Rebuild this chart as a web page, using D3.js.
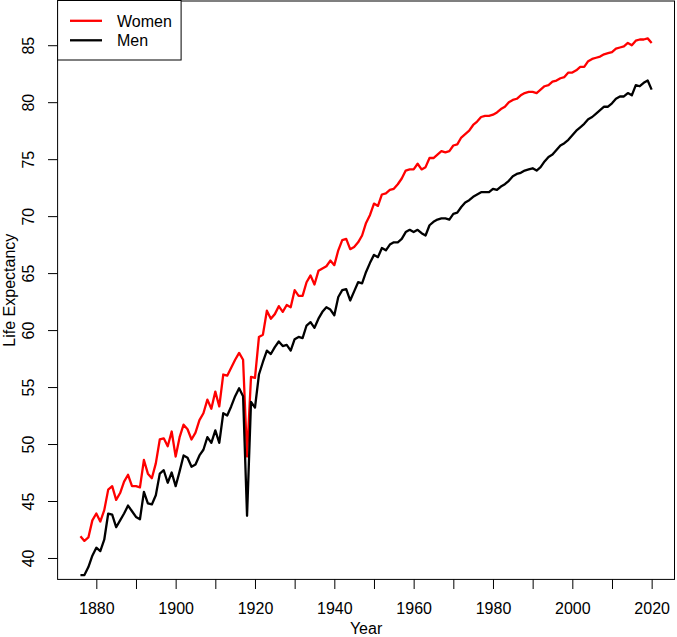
<!DOCTYPE html>
<html>
<head>
<meta charset="utf-8">
<script src="https://cdn.jsdelivr.net/npm/d3@7"></script>
<style>
  html, body { margin: 0; padding: 0; background: #fff; }
  svg { display: block; }
  text { font-family: "Liberation Sans", Arial, Helvetica, sans-serif; }
</style>
</head>
<body>
<script>
// ---- data (Switzerland-like life expectancy) ----
const years = d3.range(1876, 2021);
const women = [
  41.9, 41.5, 41.8, 43.3, 43.9, 43.2, 44.2, 46.0, 46.3, 45.1,
  45.7, 46.7, 47.3, 46.3, 46.3, 46.2, 48.6, 47.4, 47.0, 48.3,
  50.4, 50.5, 49.8, 51.1, 48.9, 50.6, 51.7, 51.3, 50.4, 51.0,
  52.1, 52.7, 53.9, 53.1, 54.6, 53.3, 56.1, 56.0, 56.7, 57.4,
  58.0, 57.4, 48.9, 55.9, 55.8, 59.4, 59.6, 61.7, 61.0, 61.4,
  62.1, 61.6, 62.2, 62.0, 63.5, 63.0, 63.0, 64.2, 64.8, 64.0,
  65.2, 65.4, 65.6, 66.1, 65.7, 67.0, 67.9, 68.0, 67.1, 67.3,
  67.7, 68.3, 69.4, 70.1, 71.1, 70.9, 71.9, 72.0, 72.3, 72.4,
  72.8, 73.3, 74.0, 74.1, 74.1, 74.6, 74.1, 74.3, 75.1, 75.1,
  75.4, 75.7, 75.6, 75.7, 76.2, 76.3, 76.9, 77.2, 77.5, 78.0,
  78.3, 78.7, 78.8, 78.8, 78.9, 79.1, 79.4, 79.6, 80.0, 80.2,
  80.3, 80.6, 80.8, 80.9, 80.9, 80.8, 81.1, 81.4, 81.5, 81.8,
  81.9, 82.1, 82.2, 82.6, 82.6, 82.8, 83.1, 83.1, 83.6, 83.8,
  83.9, 84.0, 84.2, 84.3, 84.4, 84.7, 84.8, 84.9, 85.2, 85.0,
  85.4, 85.5, 85.5, 85.6, 85.2
];
const men = [
  38.5, 38.5, 39.2, 40.2, 40.9, 40.6, 41.6, 43.9, 43.8, 42.7,
  43.3, 43.9, 44.6, 44.1, 43.6, 43.4, 45.8, 44.8, 44.7, 45.5,
  47.4, 47.7, 46.6, 47.5, 46.3, 47.6, 49.0, 48.8, 48.0, 48.2,
  49.0, 49.5, 50.6, 50.1, 51.2, 50.1, 52.7, 52.5, 53.3, 54.2,
  54.9, 54.2, 43.7, 53.7, 53.2, 56.1, 57.2, 58.2, 57.9, 58.5,
  59.0, 58.6, 58.7, 58.2, 59.2, 59.4, 59.3, 60.4, 60.7, 60.2,
  61.0, 61.6, 62.0, 61.8, 61.3, 62.9, 63.5, 63.6, 62.6, 63.4,
  64.2, 64.1, 65.1, 65.9, 66.6, 66.4, 67.2, 67.0, 67.5, 67.7,
  67.7, 68.0, 68.6, 68.8, 68.6, 68.8, 68.5, 68.3, 69.2, 69.5,
  69.7, 69.8, 69.8, 69.7, 70.2, 70.3, 70.8, 71.2, 71.4, 71.7,
  71.9, 72.1, 72.1, 72.1, 72.4, 72.3, 72.6, 72.8, 73.1, 73.5,
  73.7, 73.8, 74.0, 74.1, 74.2, 74.0, 74.3, 74.8, 75.2, 75.4,
  75.8, 76.2, 76.4, 76.7, 77.1, 77.5, 77.8, 78.1, 78.5, 78.7,
  79.0, 79.3, 79.6, 79.6, 79.9, 80.3, 80.5, 80.5, 80.8, 80.6,
  81.5, 81.4, 81.7, 81.9, 81.1
];
const seriesNames = ["Women", "Men"];
const seriesColors = ["#ff0000", "#000000"];
const yLimits = [40, 87];
const xTickValues = d3.range(1880, 2021, 10);
const xLabelValues = [1880, 1900, 1920, 1940, 1960, 1980, 2000, 2020];
const yTickValues = [40, 45, 50, 55, 60, 65, 70, 75, 80, 85];

// ---- layout ----
const W = 677, H = 637;
const box = { left: 57.6, right: 674.5, top: 1, bottom: 579.4 };

const svg = d3.select("body").append("svg").attr("width", W).attr("height", H);

// R-style 4% padding
const xr = d3.extent(years), xpad = (xr[1] - xr[0]) * 0.04;
const ypad = (yLimits[1] - yLimits[0]) * 0.04;
const x = d3.scaleLinear().domain([xr[0] - xpad, xr[1] + xpad]).range([box.left, box.right]);
const y = d3.scaleLinear().domain([yLimits[0] - ypad, yLimits[1] + ypad]).range([box.bottom, box.top]);

// axes
const xAxis = d3.axisBottom(x).tickValues(xTickValues).tickSize(9.6).tickPadding(0)
  .tickFormat(d => xLabelValues.includes(d) ? String(d) : "");
const gx = svg.append("g").attr("transform", `translate(0,${box.bottom})`).call(xAxis);
gx.select(".domain").remove();
gx.selectAll(".tick line").attr("stroke", "#000").attr("stroke-width", 1);
gx.selectAll(".tick text").attr("font-size", 16).attr("fill", "#000")
  .attr("y", 34.3).attr("dy", null);

const yAxis = d3.axisLeft(y).tickValues(yTickValues).tickSize(9.6).tickPadding(0);
const gy = svg.append("g").attr("transform", `translate(${box.left},0)`).call(yAxis);
gy.select(".domain").remove();
gy.selectAll(".tick line").attr("stroke", "#000").attr("stroke-width", 1);
gy.selectAll(".tick text").attr("font-size", 16).attr("fill", "#000")
  .attr("x", null).attr("dy", null)
  .attr("text-anchor", "middle")
  .attr("transform", `translate(${34 - box.left},0) rotate(-90)`);

// series lines
const line = d3.line().x((d, i) => x(years[i])).y(d => y(d));
[women, men].forEach((vals, k) => {
  svg.append("path").datum(vals)
    .attr("fill", "none")
    .attr("stroke", seriesColors[k])
    .attr("stroke-width", 2.3)
    .attr("stroke-linejoin", "round")
    .attr("d", line);
});

// frame
svg.append("rect")
  .attr("x", box.left).attr("y", box.top)
  .attr("width", box.right - box.left).attr("height", box.bottom - box.top)
  .attr("fill", "none").attr("stroke", "#000").attr("stroke-width", 1);

// axis titles
svg.append("text").attr("x", (box.left + box.right) / 2).attr("y", 634)
  .attr("text-anchor", "middle").attr("font-size", 16).text("Year");
svg.append("text")
  .attr("transform", `translate(15,${(box.top + box.bottom) / 2}) rotate(-90)`)
  .attr("text-anchor", "middle").attr("font-size", 16).text("Life Expectancy");

// legend
const lg = svg.append("g");
lg.append("rect").attr("x", box.left).attr("y", 0.5).attr("width", 123.5).attr("height", 59.5)
  .attr("fill", "#fff").attr("stroke", "#000").attr("stroke-width", 1);
seriesNames.forEach((name, k) => {
  const cy = 20.8 + k * 19.5;
  lg.append("line").attr("x1", 70).attr("x2", 102).attr("y1", cy).attr("y2", cy)
    .attr("stroke", seriesColors[k]).attr("stroke-width", 2.3);
  lg.append("text").attr("x", 117).attr("y", cy + 5.7).attr("font-size", 16).text(name);
});
</script>
</body>
</html>
